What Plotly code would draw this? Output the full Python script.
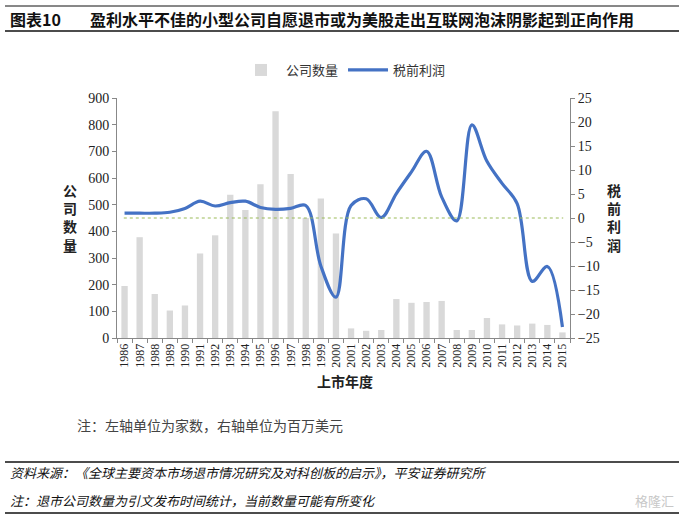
import plotly.graph_objects as go

years = [str(y) for y in range(1986, 2016)]
companies = [195, 378, 165, 103, 122, 317, 385, 537, 480, 577, 850, 615, 450, 523, 392,
             36, 27, 30, 146, 132, 135, 139, 30, 30, 75, 51, 47, 54, 49, 21]
profit = [1.0, 1.0, 1.0, 1.2, 2.0, 3.5, 2.5, 3.2, 3.5, 2.2, 1.8, 2.0, 2.6, -10.0, -16.5,
          2.6, 4.0, 0.1, 5.1, 9.6, 13.9, 4.4, -0.6, 19.4, 11.8, 7.2, 3.0, -13.2, -10.1, -22.7]

left_ticks = list(range(0, 1000, 100))
right_ticks = list(range(-25, 30, 5))

CJK = "Noto Sans CJK SC"
SERIF = "Liberation Serif"

fig = go.Figure()
fig.add_trace(go.Bar(x=years, y=companies, name="公司数量", marker_color="#D9D9D9",
                     marker_line_width=0, yaxis="y"))
fig.add_trace(go.Scatter(x=years, y=profit, name="税前利润", mode="lines",
                         line=dict(color="#4472C4", width=3.2, shape="spline", smoothing=1.0),
                         yaxis="y2"))

W, H = 684, 520
L, R, T, B = 117, 570, 98, 338
pw, ph = R - L, B - T

def px(x):
    return (x - L) / pw

def py(y):
    return (B - y) / ph

fig.update_layout(
    width=W, height=H,
    margin=dict(l=L, r=W - R, t=T, b=H - B),
    paper_bgcolor="white", plot_bgcolor="white",
    bargap=0.58,
    showlegend=True,
    legend=dict(orientation="h", x=0.5, xanchor="center", y=py(70), yanchor="middle",
                font=dict(family=CJK, size=13, color="#333"), itemwidth=40,
                traceorder="normal"),
    xaxis=dict(type="category", tickangle=-90, tickfont=dict(family=SERIF, size=12, color="#222"),
               showline=True, linecolor="#888", linewidth=1, ticks="outside", ticklen=4,
               tickcolor="#888", tickson="boundaries", showgrid=False,
               range=[-0.5, 29.5]),
    yaxis=dict(range=[0, 900], tickvals=left_ticks, tickfont=dict(family=SERIF, size=14, color="#222"),
               showline=True, linecolor="#888", linewidth=1, ticks="outside", ticklen=4,
               tickcolor="#888", showgrid=False, zeroline=False),
    yaxis2=dict(range=[-25, 25], tickvals=right_ticks, overlaying="y", side="right",
                tickfont=dict(family=SERIF, size=14, color="#222"),
                showline=True, linecolor="#888", linewidth=1, ticks="outside", ticklen=4,
                tickcolor="#888", showgrid=False, zeroline=False),
)

fig.add_shape(type="line", xref="x domain", yref="y2", x0=0.015, x1=0.985, y0=0, y1=0,
              line=dict(color="#9BBB59", width=1.2, dash="dot"))

lines_y = [6, 31, 462, 513]
for i, yy in enumerate(lines_y):
    fig.add_shape(type="line", xref="paper", yref="paper", x0=px(5), x1=px(679),
                  y0=py(yy), y1=py(yy), line=dict(color="#111", width=1.3 if i != 0 else 1))

ann = [
    dict(x=px(8), y=py(19), text="<b>图表10</b>", size=16, color="#111", xanchor="left"),
    dict(x=px(88), y=py(19), text="<b>盈利水平不佳的小型公司自愿退市或为美股走出互联网泡沫阴影起到正向作用</b>",
         size=16, color="#111", xanchor="left"),
    dict(x=px(70), y=py(217), text="<b>公<br>司<br>数<br>量</b>", size=14, color="#222", xanchor="center"),
    dict(x=px(614), y=py(217), text="<b>税<br>前<br>利<br>润</b>", size=14, color="#222", xanchor="center"),
    dict(x=px(345), y=py(381), text="<b>上市年度</b>", size=14, color="#222", xanchor="center"),
    dict(x=px(75), y=py(425), text="注：左轴单位为家数，右轴单位为百万美元", size=14, color="#444", xanchor="left"),
    dict(x=px(8), y=py(472), text="<i>资料来源：《全球主要资本市场退市情况研究及对科创板的启示》，平安证券研究所</i>",
         size=13, color="#111", xanchor="left"),
    dict(x=px(8), y=py(500), text="<i>注：退市公司数量为引文发布时间统计，当前数量可能有所变化</i>",
         size=13, color="#111", xanchor="left"),
    dict(x=px(676), y=py(500), text="格隆汇", size=13, color="#C8C8C8", xanchor="right"),
]
for a in ann:
    fig.add_annotation(x=a["x"], y=a["y"], xref="paper", yref="paper", text=a["text"],
                       showarrow=False, xanchor=a["xanchor"], yanchor="middle",
                       font=dict(family=CJK, size=a["size"], color=a["color"]))

fig.write_html("out.html", config={"displayModeBar": False},
               post_script="document.body.style.margin='0';document.body.style.padding='0';")
